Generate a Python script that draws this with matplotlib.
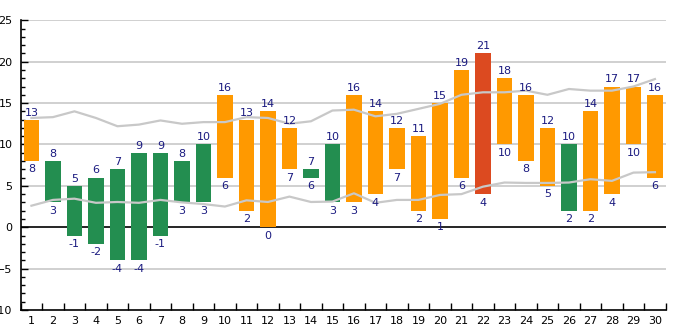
import matplotlib
matplotlib.use("Agg")
import matplotlib.pyplot as plt
from matplotlib.ticker import MultipleLocator, FixedLocator

days = list(range(1, 31))
low = [8, 3, -1, -2, -4, -4, -1, 3, 3, 6, 2, 0, 7, 6, 3,
       3, 4, 7, 2, 1, 6, 4, 10, 8, 5, 2, 2, 4, 10, 6]
high = [13, 8, 5, 6, 7, 9, 9, 8, 10, 16, 13, 14, 12, 7, 10,
        16, 14, 12, 11, 15, 19, 21, 18, 16, 12, 10, 14, 17, 17, 16]
kind = ["w", "c", "c", "c", "c", "c", "c", "c", "c", "w", "w", "w", "w", "c", "c",
        "w", "w", "w", "w", "w", "w", "h", "w", "w", "w", "c", "w", "w", "w", "w"]
avg_high = [13.2, 13.3, 14.0, 13.2, 12.2, 12.4, 12.9, 12.5, 12.7, 12.7,
            13.3, 13.2, 12.5, 12.8, 14.1, 14.2, 13.4, 13.7, 14.3, 14.9,
            16.0, 16.3, 16.3, 16.5, 16.0, 16.7, 16.5, 16.5, 17.0, 17.9]
avg_low = [2.6, 3.3, 3.45, 2.95, 3.05, 2.95, 3.3, 3.0, 2.8, 2.5,
           3.25, 3.05, 3.7, 3.05, 3.1, 4.1, 2.95, 3.3, 3.3, 3.9,
           4.0, 4.9, 5.4, 5.35, 5.35, 5.4, 5.8, 5.6, 6.6, 6.65]

colors = {"w": "#ff9900", "c": "#238e50", "h": "#dc4a20"}
label_color = "#1a1a80"
grid_color = "#c8c8c8"

fig = plt.figure(figsize=(6.85, 3.30), dpi=100)
ax = fig.add_axes([0.0302, 0.0606, 0.9416, 0.8779])

for y in [-5, 5, 10, 15, 20, 25]:
    ax.axhline(y, color=grid_color, lw=1.2, zorder=0)
ax.axhline(0, color="black", lw=1.2, zorder=1)

heights = [h - l for h, l in zip(high, low)]
ax.bar(days, heights, bottom=low, width=0.73,
       color=[colors[k] for k in kind], zorder=2)

ax.plot(days, avg_high, color=grid_color, lw=1.6, zorder=3)
ax.plot(days, avg_low, color=grid_color, lw=1.6, zorder=3)

for d, l, h in zip(days, low, high):
    ax.annotate(str(h), (d, h), xytext=(0, 1.5), textcoords="offset points",
                ha="center", va="bottom", fontsize=8, color=label_color)
    ax.annotate(str(l), (d, l), xytext=(0, -2.5), textcoords="offset points",
                ha="center", va="top", fontsize=8, color=label_color)

ax.set_xlim(0.5, 30.5)
ax.set_ylim(-10, 25)

ax.set_xticks(days)
ax.set_xticklabels([str(d) for d in days])
ax.xaxis.set_minor_locator(FixedLocator([d + 0.5 for d in range(0, 31)]))
ax.tick_params(axis="x", which="major", length=0, pad=4, labelsize=8)
ax.tick_params(axis="x", which="minor", direction="in", length=5, width=1)

ax.yaxis.set_major_locator(MultipleLocator(5))
ax.yaxis.set_minor_locator(MultipleLocator(1))
ax.tick_params(axis="y", which="major", direction="in", length=5, width=1,
               pad=6, labelsize=8)
ax.tick_params(axis="y", which="minor", direction="in", length=3, width=1)

for side in ["top", "right"]:
    ax.spines[side].set_visible(False)
for side in ["left", "bottom"]:
    ax.spines[side].set_linewidth(1.2)

fig.savefig("out.png", dpi=100)
